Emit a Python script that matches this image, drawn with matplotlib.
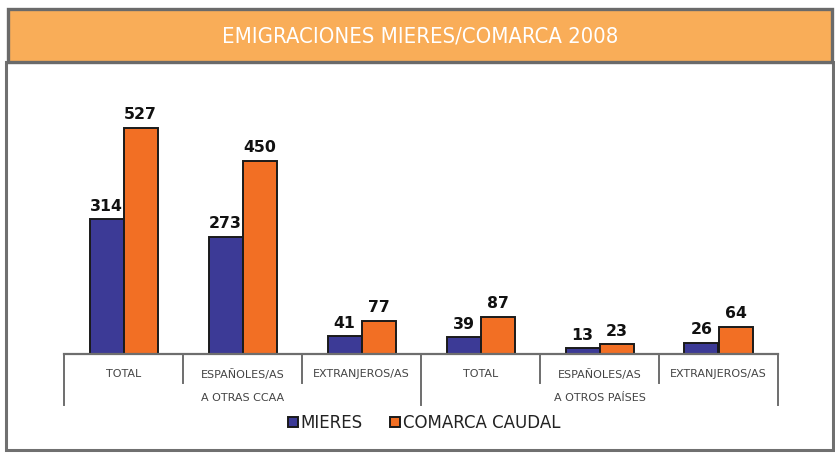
import matplotlib
matplotlib.use("Agg")
import matplotlib.pyplot as plt
from matplotlib.patches import Rectangle
from matplotlib.lines import Line2D
import numpy as np

title = "EMIGRACIONES MIERES/COMARCA 2008"
categories = ["TOTAL", "ESPAÑOLES/AS\nA OTRAS CCAA", "EXTRANJEROS/AS",
              "TOTAL", "ESPAÑOLES/AS\nA OTROS PAÍSES", "EXTRANJEROS/AS"]
series_names = ["MIERES", "COMARCA CAUDAL"]
mieres = [314, 273, 41, 39, 13, 26]
comarca = [527, 450, 77, 87, 23, 64]

W, H = 835, 455
fig = plt.figure(figsize=(W / 100, H / 100), dpi=100)
plt.rcParams['font.family'] = ['DejaVu Sans']

def fx(px):
    return px / W

def fy(py):
    return (H - py) / H

# Outer frame
fig.patches.append(Rectangle((fx(6), fy(450)), fx(833) - fx(6), fy(62) - fy(450),
                             transform=fig.transFigure, facecolor='white',
                             edgecolor='#707070', linewidth=2.2, zorder=-2))
# Title band
fig.patches.append(Rectangle((fx(8), fy(62)), fx(832) - fx(8), fy(9) - fy(62),
                             transform=fig.transFigure, facecolor='#F9AD58',
                             edgecolor='#6a6a6a', linewidth=2.4, zorder=-1))
fig.text(fx(420), fy(36), title, color='white', fontsize=15.8,
         ha='center', va='center', zorder=3, fontstretch='condensed')

# Axes
ax_left, ax_right = 64, 778
ax_top, ax_base = 90, 354
ax = fig.add_axes([fx(ax_left), fy(ax_base), fx(ax_right) - fx(ax_left), fy(ax_top) - fy(ax_base)])
ax.set_zorder(5)
ax.set_facecolor('none')
ymax = 527 * (ax_base - ax_top) / (ax_base - 128)
ax.set_ylim(0, ymax)
ax.set_xlim(-0.5, 5.5)

x = np.arange(len(categories))
bw = 34 / 119
blue = '#3C3A96'
orange = '#F26F24'
b1 = ax.bar(x - bw / 2, mieres, bw, color=blue, edgecolor='#1a1a1a', linewidth=1.4,
            label=series_names[0], zorder=3)
b2 = ax.bar(x + bw / 2, comarca, bw, color=orange, edgecolor='#1a1a1a', linewidth=1.4,
            label=series_names[1], zorder=3)

for bars, vals in ((b1, mieres), (b2, comarca)):
    for rect, v in zip(bars, vals):
        ax.annotate(str(v), (rect.get_x() + rect.get_width() / 2, v),
                    xytext=(0, 4), textcoords='offset points', ha='center', va='bottom',
                    fontsize=11.3, fontweight='bold', color='#111111')

for s in ax.spines.values():
    s.set_visible(False)
ax.set_yticks([])
ax.set_xticks(x)
ax.set_xticklabels(categories, fontsize=8, color='#444444', linespacing=2.55)
ax.tick_params(axis='x', length=0, pad=11)

# baseline and dividers
trans = ax.get_xaxis_transform()
def ay(py):
    return (ax_base - py) / (ax_base - ax_top)
ax.add_line(Line2D([-0.5, 5.5], [0, 0], transform=trans, color='#6e6e6e', lw=1.6,
                   clip_on=False, zorder=4))
for xv in [-0.5, 2.5, 5.5]:
    ax.add_line(Line2D([xv, xv], [0, ay(405)], transform=trans, color='#6e6e6e', lw=1.4,
                       clip_on=False))
for xv in [0.5, 1.5, 3.5, 4.5]:
    ax.add_line(Line2D([xv, xv], [0, ay(383)], transform=trans, color='#6e6e6e', lw=1.4,
                       clip_on=False))

fig.legend(handles=[b1, b2], labels=series_names, loc='center',
           bbox_to_anchor=(fx(424), fy(423)), ncol=2, frameon=False,
           fontsize=12, handlelength=0.6, handleheight=0.6, handletextpad=0.2,
           columnspacing=1.6, labelcolor='#222222')

fig.savefig('out.png', dpi=100)
